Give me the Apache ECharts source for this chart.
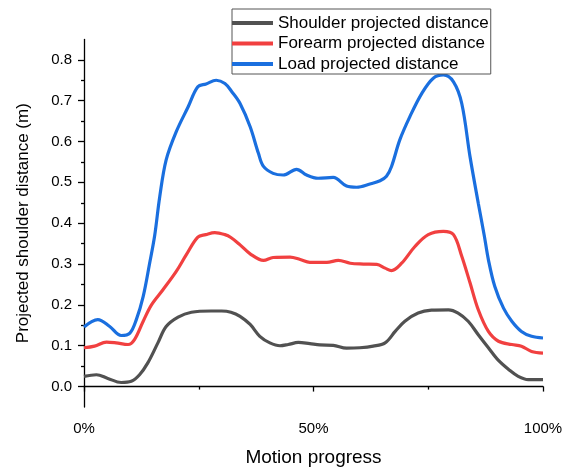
<!DOCTYPE html>
<html>
<head>
<meta charset="utf-8">
<script src="https://cdn.jsdelivr.net/npm/echarts@6/dist/echarts.min.js"></script>
<style>html,body{margin:0;padding:0;background:#fff}#c{width:569px;height:468px}</style>
</head>
<body>
<div id="c"></div>
<script>
const seriesNames = ['Shoulder projected distance', 'Forearm projected distance', 'Load projected distance'];

const shoulderX = [0, 2.7, 5.2, 8.1, 10.3, 12.1, 13.9, 16.1, 17.9, 20.5, 23.4, 27.7, 30, 32, 34, 36.2, 38.3, 40.5, 42.7, 44.5, 46.7, 49.2, 51.4, 54.3, 57.2, 60.1, 63, 65.6, 67.8, 69.9, 72.8, 75.7, 79.4, 81.5, 83.7, 85.9, 88.1, 90.3, 92.5, 94.6, 96.8, 100];
const shoulderY = [0.025, 0.029, 0.020, 0.010, 0.013, 0.029, 0.058, 0.107, 0.147, 0.170, 0.182, 0.185, 0.185, 0.182, 0.172, 0.152, 0.123, 0.107, 0.100, 0.103, 0.108, 0.105, 0.102, 0.101, 0.094, 0.095, 0.099, 0.107, 0.135, 0.160, 0.180, 0.187, 0.188, 0.180, 0.160, 0.127, 0.095, 0.064, 0.042, 0.025, 0.017, 0.017];

const forearmX = [0, 2.3, 4.9, 7, 9.6, 11, 12.9, 14.7, 17.2, 20.1, 22.3, 24.8, 26.5, 28.5, 30.7, 32, 34, 36.2, 39.1, 41.2, 44.9, 47.1, 49.2, 52.9, 55.4, 58, 60.9, 63.8, 65.6, 67, 69.2, 72.1, 75, 78.3, 80.5, 82.3, 84.1, 85.9, 88.1, 90.3, 93.2, 95.3, 97.5, 100];
const forearmY = [0.095, 0.099, 0.109, 0.107, 0.103, 0.115, 0.160, 0.200, 0.237, 0.282, 0.323, 0.366, 0.372, 0.377, 0.372, 0.365, 0.347, 0.325, 0.309, 0.316, 0.317, 0.311, 0.304, 0.304, 0.309, 0.302, 0.300, 0.299, 0.290, 0.284, 0.302, 0.343, 0.372, 0.380, 0.372, 0.319, 0.254, 0.188, 0.135, 0.111, 0.103, 0.099, 0.086, 0.082];

const loadX = [0, 3, 5.6, 8.1, 10, 11.4, 12.9, 14.3, 15.4, 16.5, 17.9, 20.1, 22.7, 24.8, 26.6, 28.8, 30.7, 32.2, 34, 36.2, 38, 39.1, 41.2, 43.4, 46.3, 48.5, 51, 54.3, 57.2, 59.4, 62.3, 64.5, 65.9, 67, 68.8, 71, 73.6, 76.1, 78.3, 80.5, 82.3, 84.1, 85.9, 87.2, 88.1, 89.5, 91.4, 93.2, 95.3, 97.5, 100];
const loadY = [0.146, 0.164, 0.147, 0.125, 0.131, 0.164, 0.221, 0.302, 0.370, 0.465, 0.555, 0.624, 0.685, 0.734, 0.741, 0.750, 0.742, 0.722, 0.693, 0.636, 0.571, 0.539, 0.522, 0.518, 0.532, 0.518, 0.510, 0.512, 0.491, 0.488, 0.496, 0.504, 0.515, 0.539, 0.604, 0.661, 0.718, 0.755, 0.763, 0.746, 0.693, 0.563, 0.449, 0.370, 0.311, 0.245, 0.192, 0.160, 0.135, 0.123, 0.119];

const yTicks = [0, 0.1, 0.2, 0.3, 0.4, 0.5, 0.6, 0.7, 0.8];
const yMinorTicks = [0.05, 0.15, 0.25, 0.35, 0.45, 0.55, 0.65, 0.75];
const xLabels = [0, 50, 100];
const xMinorTicks = [25, 75];

const colors = ['#515151', '#F14040', '#1A6FDF'];
const FONT = 'Liberation Sans, Arial, sans-serif';

function pairs(xs, ys) { return xs.map((x, i) => [x, ys[i]]); }

const chart = echarts.init(document.getElementById('c'), null, {renderer: 'canvas'});
const axisLine = {show: true, lineStyle: {color: '#000', width: 1.3}};
const tickStyle = {color: '#000', width: 1.3};
chart.setOption({
  animation: false,
  backgroundColor: '#fff',
  grid: {left: 84, right: 26, top: 39.4, bottom: 61, containLabel: false, outerBoundsMode: 'none'},
  legend: {
    orient: 'vertical',
    left: 232, top: 9,
    padding: [5.5, 2, 1.5, 0],
    itemGap: 3.5,
    itemWidth: 41, itemHeight: 4,
    icon: 'rect',
    borderColor: '#555', borderWidth: 1,
    backgroundColor: '#fff',
    textStyle: {fontFamily: FONT, fontSize: 17, color: '#000', lineHeight: 17},
    data: seriesNames
  },
  xAxis: [{
    type: 'value', min: 0, max: 100, interval: 25,
    axisLine: axisLine,
    splitLine: {show: false},
    axisTick: {show: true, inside: false, length: 5, customValues: xLabels, lineStyle: tickStyle},
    axisLabel: {customValues: xLabels, formatter: v => v + '%', fontFamily: FONT, fontSize: 15, color: '#000', margin: 14},
    name: 'Motion progress', nameLocation: 'middle', nameGap: 41,
    nameTextStyle: {fontFamily: FONT, fontSize: 19, color: '#000'}
  }, {
    type: 'value', min: 0, max: 100, position: 'bottom', offset: 0,
    axisLine: {show: false},
    splitLine: {show: false},
    axisTick: {show: true, inside: false, length: 3, customValues: xMinorTicks, lineStyle: tickStyle},
    axisLabel: {show: false}
  }],
  yAxis: [{
    type: 'value', min: -0.05, max: 0.85,
    axisLine: axisLine,
    splitLine: {show: false},
    axisTick: {show: true, inside: false, length: 6, customValues: yTicks, lineStyle: tickStyle},
    axisLabel: {customValues: yTicks, formatter: v => v.toFixed(1), fontFamily: FONT, fontSize: 15, color: '#000', margin: 12},
    name: 'Projected shoulder distance (m)', nameLocation: 'middle', nameGap: 52,
    nameTextStyle: {fontFamily: FONT, fontSize: 17, color: '#000'}
  }, {
    type: 'value', min: -0.05, max: 0.85, position: 'left', offset: 0,
    axisLine: {show: false},
    splitLine: {show: false},
    axisTick: {show: true, inside: false, length: 3, customValues: yMinorTicks, lineStyle: tickStyle},
    axisLabel: {show: false}
  }],
  series: [
    {name: seriesNames[0], type: 'line', data: pairs(shoulderX, shoulderY), smooth: 0.35, showSymbol: false, symbol: 'none', lineStyle: {width: 3.2, color: colors[0]}, itemStyle: {color: colors[0]}, z: 3},
    {name: seriesNames[1], type: 'line', data: pairs(forearmX, forearmY), smooth: 0.35, showSymbol: false, symbol: 'none', lineStyle: {width: 3.2, color: colors[1]}, itemStyle: {color: colors[1]}, z: 3},
    {name: seriesNames[2], type: 'line', data: pairs(loadX, loadY), smooth: 0.35, showSymbol: false, symbol: 'none', lineStyle: {width: 3.2, color: colors[2]}, itemStyle: {color: colors[2]}, z: 3}
  ]
});
</script>
</body>
</html>
